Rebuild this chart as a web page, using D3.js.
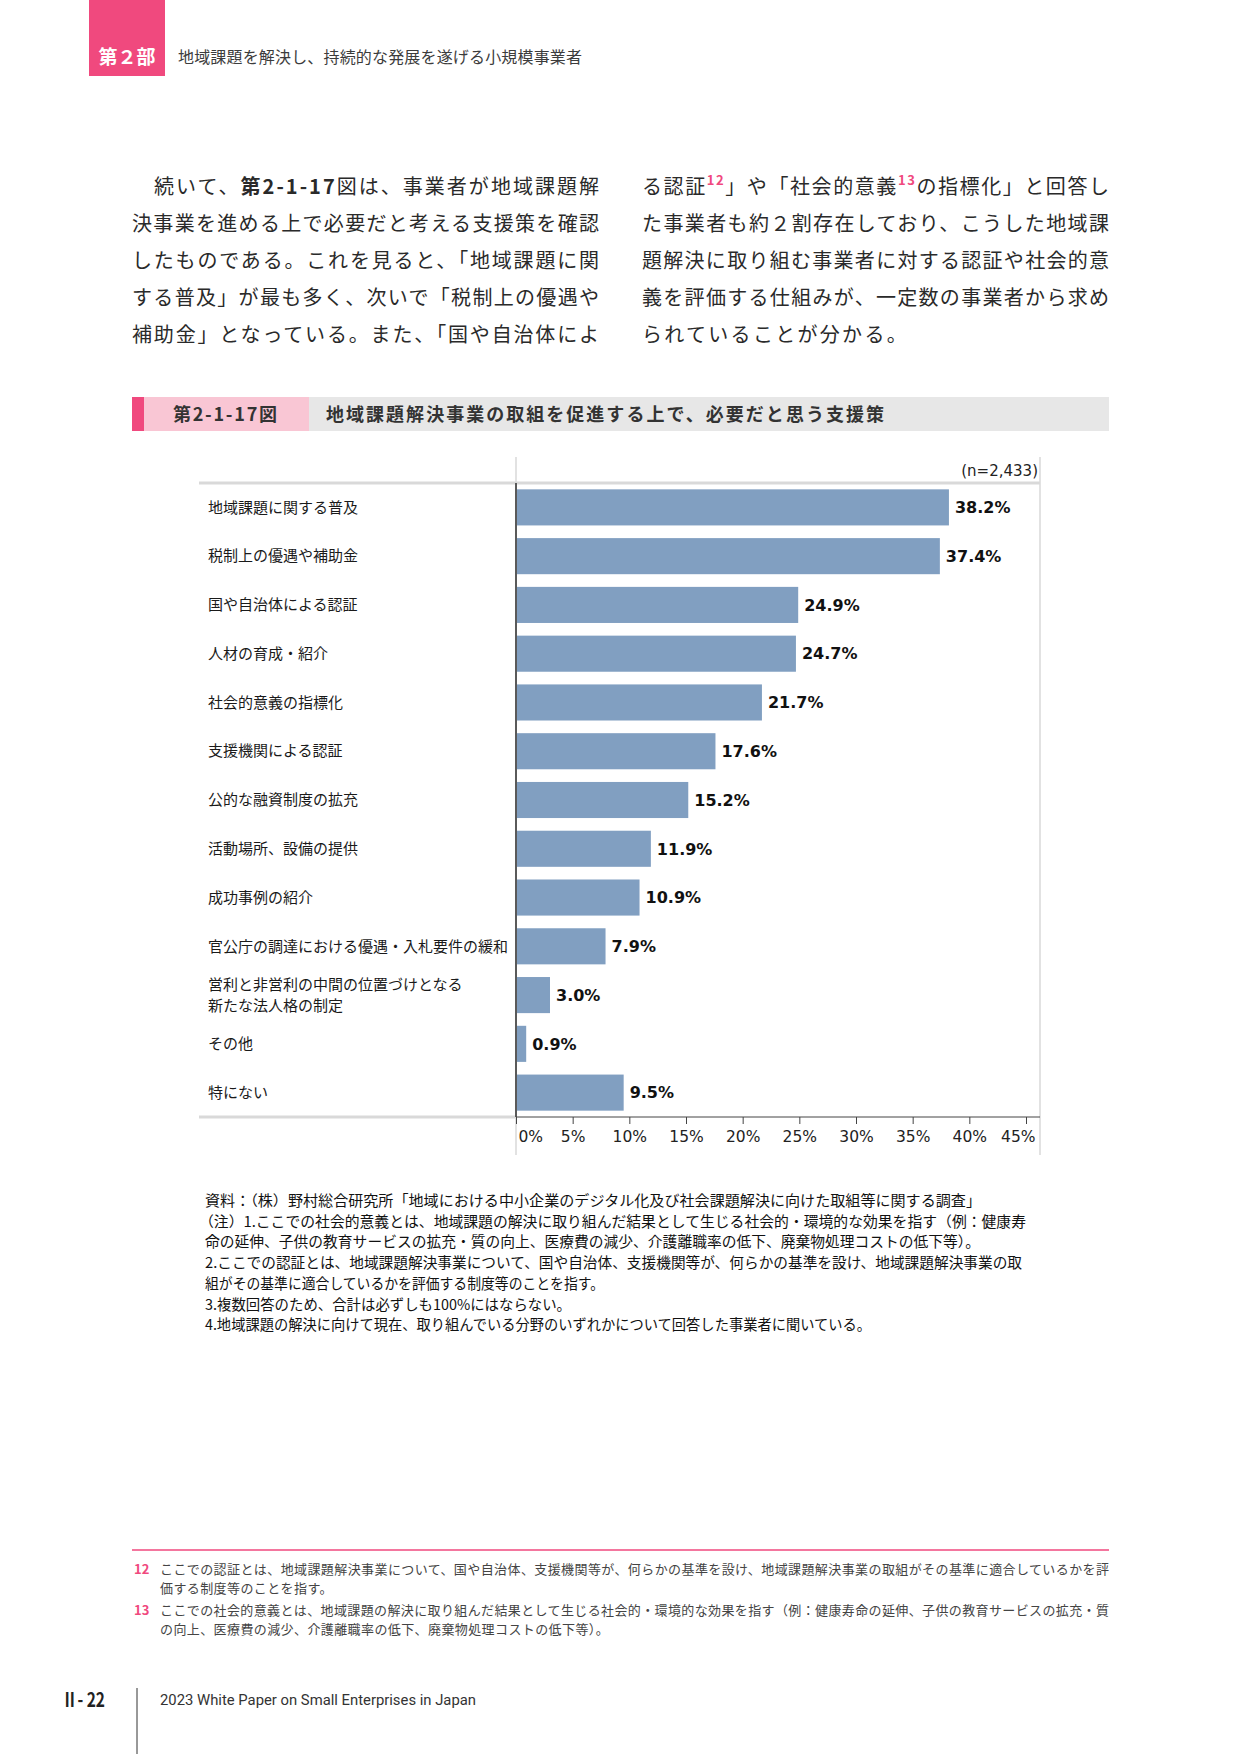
<!DOCTYPE html>
<html lang="ja">
<head>
<meta charset="utf-8">
<script src="https://cdn.jsdelivr.net/npm/d3@7"></script>
<style>
body { margin: 0; background: #fff; }
svg { display: block; }
</style>
</head>
<body>
<div id="page"></div>
<script>
// chart data
const categories = [
    "地域課題に関する普及",
    "税制上の優遇や補助金",
    "国や自治体による認証",
    "人材の育成・紹介",
    "社会的意義の指標化",
    "支援機関による認証",
    "公的な融資制度の拡充",
    "活動場所、設備の提供",
    "成功事例の紹介",
    "官公庁の調達における優遇・入札要件の緩和",
    "営利と非営利の中間の位置づけとなる\n新たな法人格の制定",
    "その他",
    "特にない"
]
const values = [38.2, 37.4, 24.9, 24.7, 21.7, 17.6, 15.2, 11.9, 10.9, 7.9, 3.0, 0.9, 9.5]
const xTicks = [0, 5, 10, 15, 20, 25, 30, 35, 40, 45]
const sampleSize = "(n=2,433)"
const figNo = "第2-1-17図"
const figTitle = "地域課題解決事業の取組を促進する上で、必要だと思う支援策"

// body text: [text, style] segments per line
const leftLines = [
    [["　続いて、"], ["第2-1-17", "b"], ["図は、事業者が地域課題解"]],
    [["決事業を進める上で必要だと考える支援策を確認"]],
    [["したものである。これを見ると、「地域課題に関"]],
    [["する普及」が最も多く、次いで「税制上の優遇や"]],
    [["補助金」となっている。また、「国や自治体によ"]]
]
const rightLines = [
    [["る認証"], ["12", "sup"], ["」や「社会的意義"], ["13", "sup"], ["の指標化」と回答し"]],
    [["た事業者も約２割存在しており、こうした地域課"]],
    [["題解決に取り組む事業者に対する認証や社会的意"]],
    [["義を評価する仕組みが、一定数の事業者から求め"]],
    [["られていることが分かる。"]]
]

// source and notes under the chart: text, left edge, right edge
const notes = [
    ["資料：（株）野村総合研究所「地域における中小企業のデジタル化及び社会課題解決に向けた取組等に関する調査」", 205, 981],
    ["（注）1.ここでの社会的意義とは、地域課題の解決に取り組んだ結果として生じる社会的・環境的な効果を指す（例：健康寿", 199, 1026],
    ["命の延伸、子供の教育サービスの拡充・質の向上、医療費の減少、介護離職率の低下、廃棄物処理コストの低下等）。", 205, 980],
    ["2.ここでの認証とは、地域課題解決事業について、国や自治体、支援機関等が、何らかの基準を設け、地域課題解決事業の取", 205, 1022],
    ["組がその基準に適合しているかを評価する制度等のことを指す。", 205, 604],
    ["3.複数回答のため、合計は必ずしも100%にはならない。", 205, 571],
    ["4.地域課題の解決に向けて現在、取り組んでいる分野のいずれかについて回答した事業者に聞いている。", 205, 871]
]

const footnotes = [
    ["12", "ここでの認証とは、地域課題解決事業について、国や自治体、支援機関等が、何らかの基準を設け、地域課題解決事業の取組がその基準に適合しているかを評", true],
    ["", "価する制度等のことを指す。", false],
    ["13", "ここでの社会的意義とは、地域課題の解決に取り組んだ結果として生じる社会的・環境的な効果を指す（例：健康寿命の延伸、子供の教育サービスの拡充・質", true],
    ["", "の向上、医療費の減少、介護離職率の低下、廃棄物処理コストの低下等）。", false]
]

const W = 1241
const H = 1754
const jp = "'Noto Sans CJK JP', 'Noto Sans CJK SC', sans-serif"
const num = "'DejaVu Sans', Verdana, sans-serif"
const pink = "#f0497e"

var svg = d3.select("#page").append("svg").attr("width", W).attr("height", H)
svg.append("rect").attr("width", W).attr("height", H).attr("fill", "#fff")

// --- page header
svg.append("rect").attr("x", 89).attr("y", 0).attr("width", 76).attr("height", 76).attr("fill", pink)
svg.append("text")
    .attr("x", 127).attr("y", 64)
    .attr("text-anchor", "middle")
    .attr("font-family", jp).attr("font-weight", 700).attr("font-size", 19)
    .attr("fill", "#fff")
    .text("第２部")
svg.append("text")
    .attr("x", 178).attr("y", 63)
    .attr("font-family", jp).attr("font-size", 16)
    .attr("fill", "#3c3c3c")
    .attr("textLength", 404).attr("lengthAdjust", "spacing")
    .text("地域課題を解決し、持続的な発展を遂げる小規模事業者")

// --- body paragraph, justified by letter spacing
function bodyLine(x, y, segs, width) {
    var t = svg.append("text").attr("x", x).attr("y", y)
        .attr("font-family", jp).attr("font-size", 20).attr("fill", "#2a2a2a")
    segs.forEach(function(s, i) {
        var sp = t.append("tspan").text(s[0])
        if (s[1] == "b") sp.attr("font-weight", 700)
        if (s[1] == "sup") sp.attr("font-size", 13).attr("font-weight", 700).attr("fill", pink).attr("dy", -9)
        if (i > 0 && segs[i - 1][1] == "sup") sp.attr("dy", 9)
    })
    var n = segs.map((s) => s[0].length).reduce((a, b) => a + b)
    var len = t.node().getComputedTextLength()
    var ls = width ? (width - len) / (n - 1) : 2.3
    t.attr("letter-spacing", ls)
}

var bodyBase = [194, 231, 268, 305, 342]
leftLines.forEach(function(l, i) {
    bodyLine(132, bodyBase[i], l, 467)
})
rightLines.forEach(function(l, i) {
    bodyLine(642, bodyBase[i], l, i == rightLines.length - 1 ? null : 467)
})

// --- figure title bar
svg.append("rect").attr("x", 132).attr("y", 397).attr("width", 12).attr("height", 34).attr("fill", pink)
svg.append("rect").attr("x", 144).attr("y", 397).attr("width", 165).attr("height", 34).attr("fill", "#f9c6d4")
svg.append("rect").attr("x", 309).attr("y", 397).attr("width", 800).attr("height", 34).attr("fill", "#e7e7e7")
svg.append("text")
    .attr("x", 173).attr("y", 421)
    .attr("font-family", jp).attr("font-weight", 700).attr("font-size", 18)
    .attr("fill", "#333")
    .attr("textLength", 104).attr("lengthAdjust", "spacing")
    .text(figNo)
svg.append("text")
    .attr("x", 326).attr("y", 421)
    .attr("font-family", jp).attr("font-weight", 700).attr("font-size", 18)
    .attr("fill", "#333")
    .attr("textLength", 558).attr("lengthAdjust", "spacing")
    .text(figTitle)

// --- bar chart
var x = d3.scaleLinear().domain([0, 45]).range([516, 1026])
var y = d3.scaleBand().domain(categories).range([483, 1117]).paddingInner(0.26).paddingOuter(0.13)

var chart = svg.append("g").attr("class", "chart")

// frame lines
chart.append("line").attr("x1", 516).attr("x2", 516).attr("y1", 457).attr("y2", 1155)
    .attr("stroke", "#d9d9d9").attr("stroke-width", 1.5)
chart.append("line").attr("x1", 1040).attr("x2", 1040).attr("y1", 457).attr("y2", 1155)
    .attr("stroke", "#d9d9d9").attr("stroke-width", 1.5)
chart.append("line").attr("x1", 199).attr("x2", 1040).attr("y1", 483).attr("y2", 483)
    .attr("stroke", "#d9d9d9").attr("stroke-width", 3)
chart.append("line").attr("x1", 199).attr("x2", 516).attr("y1", 1117).attr("y2", 1117)
    .attr("stroke", "#d9d9d9").attr("stroke-width", 3)

chart.selectAll(".bar")
    .data(values)
    .enter()
    .append("rect")
    .attr("class", "bar")
    .attr("x", x(0))
    .attr("y", (d, i) => y(categories[i]))
    .attr("width", (d) => x(d) - x(0))
    .attr("height", y.bandwidth())
    .attr("fill", "#819fc1")

chart.selectAll(".val")
    .data(values)
    .enter()
    .append("text")
    .attr("class", "val")
    .attr("x", (d) => x(d) + 6)
    .attr("y", (d, i) => y(categories[i]) + y.bandwidth() / 2)
    .attr("dy", "0.36em")
    .attr("font-family", num).attr("font-weight", 700).attr("font-size", 16)
    .attr("fill", "#111")
    .text((d) => d.toFixed(1) + "%")

// category labels, left aligned
var labels = chart.selectAll(".cat")
    .data(categories)
    .enter()
    .append("text")
    .attr("class", "cat")
    .attr("x", 208)
    .attr("y", (d) => y(d) + y.bandwidth() / 2)
    .attr("font-family", jp).attr("font-size", 15)
    .attr("fill", "#1a1a1a")

labels.each(function(d) {
    var parts = d.split("\n")
    var t = d3.select(this)
    parts.forEach(function(p, i) {
        t.append("tspan")
            .attr("x", 208)
            .attr("dy", i == 0 ? (0.35 - (parts.length - 1) * 0.7) + "em" : "1.4em")
            .text(p)
    })
})

// y axis line
chart.append("line").attr("x1", 516).attr("x2", 516).attr("y1", 483).attr("y2", 1117)
    .attr("stroke", "#5a5a5a").attr("stroke-width", 2)

// x axis
var xAxis = d3.axisBottom(x).tickValues(xTicks).tickFormat((d) => d + "%").tickSize(7).tickSizeOuter(0)
var gx = chart.append("g").attr("transform", "translate(0,1117)").call(xAxis)
gx.select(".domain").remove()
gx.selectAll(".tick line").attr("stroke", "#444")
gx.selectAll(".tick text")
    .attr("font-family", num).attr("font-size", 15.5)
    .attr("fill", "#222")
    .attr("y", 14)
gx.selectAll(".tick text").filter((d) => d == 0).attr("text-anchor", "start").attr("x", 2)
gx.selectAll(".tick text").filter((d) => d == 45).attr("text-anchor", "end").attr("x", 9)
chart.append("line").attr("x1", 516).attr("x2", 1040).attr("y1", 1117).attr("y2", 1117)
    .attr("stroke", "#444").attr("stroke-width", 1)

chart.append("text")
    .attr("x", 1038).attr("y", 476)
    .attr("text-anchor", "end")
    .attr("font-family", num).attr("font-size", 15)
    .attr("fill", "#222")
    .text(sampleSize)

// --- source and notes
notes.forEach(function(n, i) {
    svg.append("text")
        .attr("x", n[1]).attr("y", 1206 + i * 20.7)
        .attr("font-family", jp).attr("font-size", 14.5)
        .attr("fill", "#111")
        .attr("textLength", n[2] - n[1]).attr("lengthAdjust", "spacingAndGlyphs")
        .text(n[0])
})

// --- footnotes
svg.append("line").attr("x1", 132).attr("x2", 1109).attr("y1", 1550).attr("y2", 1550)
    .attr("stroke", pink).attr("stroke-width", 1.3)
var fnBase = [1574, 1593, 1615, 1634]
footnotes.forEach(function(f, i) {
    if (f[0]) {
        svg.append("text")
            .attr("x", 134).attr("y", fnBase[i])
            .attr("font-family", jp).attr("font-weight", 700).attr("font-size", 13)
            .attr("fill", pink)
            .text(f[0])
    }
    var t = svg.append("text")
        .attr("x", 160).attr("y", fnBase[i])
        .attr("font-family", jp).attr("font-size", 13)
        .attr("fill", "#444")
        .text(f[1])
    if (f[2]) t.attr("textLength", 949).attr("lengthAdjust", "spacing")
    else t.attr("letter-spacing", 0.4)
})

// --- page footer
svg.append("text")
    .attr("x", 62).attr("y", 1707)
    .attr("font-family", jp).attr("font-weight", 700).attr("font-size", 20)
    .attr("fill", "#222")
    .attr("textLength", 43).attr("lengthAdjust", "spacingAndGlyphs")
    .text("Ⅱ- 22")
svg.append("line").attr("x1", 137).attr("x2", 137).attr("y1", 1688).attr("y2", 1754)
    .attr("stroke", "#333").attr("stroke-width", 1)
svg.append("text")
    .attr("x", 160).attr("y", 1705)
    .attr("font-family", "Roboto, sans-serif").attr("font-size", 14)
    .attr("fill", "#333")
    .attr("textLength", 316).attr("lengthAdjust", "spacingAndGlyphs")
    .text("2023 White Paper on Small Enterprises in Japan")
</script>
</body>
</html>
